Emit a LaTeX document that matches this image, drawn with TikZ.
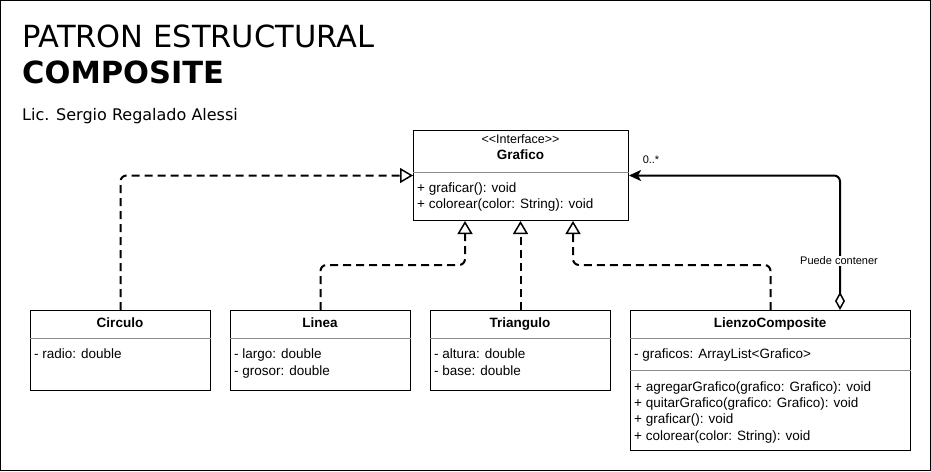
\documentclass[tikz,border=0pt]{standalone}
\usepackage{fontspec}
\setmainfont{Liberation Sans}
\newfontfamily\titlefont{DejaVu Sans}
\usetikzlibrary{arrows.meta}
\begin{document}
\begin{tikzpicture}[x=1pt,y=-1pt,
  classbox/.style={draw=black, line width=1pt, fill=white, anchor=north west, inner sep=0pt},
  txt/.style={anchor=base west, inner sep=0pt, font=\fontsize{13.5}{16}\selectfont},
  ttl/.style={anchor=base, inner sep=0pt, font=\fontsize{13.5}{16}\selectfont\bfseries},
  sepline/.style={draw=black!45, line width=1pt},
  realiz/.style={line width=2pt, dash pattern=on 8pt off 5pt, rounded corners=6pt,
     -{Triangle[open,length=13pt,width=15pt,line width=1.5pt]}},
  aggr/.style={line width=2pt, rounded corners=6pt,
     {Diamond[open,length=18pt,width=10pt,line width=1.5pt]}-{Stealth[length=12pt,width=11pt,inset=3pt]}},
  lbl/.style={inner sep=1pt, font=\fontsize{11}{13}\selectfont}
]
\useasboundingbox (0,0) rectangle (931,471);
\draw[line width=1pt, fill=white] (0.5,0.5) rectangle (930.5,470.5);

% titles
\node[anchor=base west, inner sep=0pt, font=\titlefont\fontsize{30.5}{36}\selectfont] (t1) at (22,47) {PATRON ESTRUCTURAL};
\node[anchor=base west, inner sep=0pt, font=\titlefont\bfseries\fontsize{30.5}{36}\selectfont] (t2) at (22,83) {COMPOSITE};
\node[anchor=base west, inner sep=0pt, font=\titlefont\fontsize{16}{19}\selectfont] (t3) at (22,120) {Lic. Sergio Regalado Alessi};

% Grafico
\node[classbox, minimum width=215pt, minimum height=90pt] (graf) at (413,130) {};
\node[anchor=base, inner sep=0pt, font=\fontsize{12.5}{15}\selectfont] (gst) at (520.5,143) {<\kern0pt<Interface>\kern0pt>};
\node[ttl] (gname) at (520.5,159) {Grafico};
\draw[sepline] (graf.west |- 0,172) -- (graf.east |- 0,172);
\node[txt] (gm1) at (417,192) {+ graficar(): void};
\node[txt] (gm2) at (417,208) {+ colorear(color: String): void};

% Circulo
\node[classbox, minimum width=180pt, minimum height=80pt] (circ) at (30,310) {};
\node[ttl] (cname) at (120,327) {Circulo};
\draw[sepline] (circ.west |- 0,338) -- (circ.east |- 0,338);
\node[txt] (ca1) at (34,358) {- radio: double};

% Linea
\node[classbox, minimum width=180pt, minimum height=80pt] (lin) at (230,310) {};
\node[ttl] (lname) at (320,327) {Linea};
\draw[sepline] (lin.west |- 0,338) -- (lin.east |- 0,338);
\node[txt] (la1) at (234,358) {- largo: double};
\node[txt] (la2) at (234,375) {- grosor: double};

% Triangulo
\node[classbox, minimum width=180pt, minimum height=80pt] (tri) at (430,310) {};
\node[ttl] (trname) at (520,327) {Triangulo};
\draw[sepline] (tri.west |- 0,338) -- (tri.east |- 0,338);
\node[txt] (ta1) at (434,358) {- altura: double};
\node[txt] (ta2) at (434,375) {- base: double};

% LienzoComposite
\node[classbox, minimum width=280pt, minimum height=140pt] (lz) at (630,310) {};
\node[ttl] (lzname) at (770,327) {LienzoComposite};
\draw[sepline] (lz.west |- 0,338) -- (lz.east |- 0,338);
\node[txt] (lza1) at (634,358) {- graficos: ArrayList<Grafico>};
\draw[sepline] (lz.west |- 0,370) -- (lz.east |- 0,370);
\node[txt] (lzm1) at (634,391) {+ agregarGrafico(grafico: Grafico): void};
\node[txt] (lzm2) at (634,407) {+ quitarGrafico(grafico: Grafico): void};
\node[txt] (lzm3) at (634,423) {+ graficar(): void};
\node[txt] (lzm4) at (634,440) {+ colorear(color: String): void};

% connectors
\draw[realiz] (circ.north) |- (graf.west);
\coordinate (lk) at (465,265);
\draw[realiz] (lin.north) |- (lk) -- (lk |- graf.south);
\draw[realiz] (tri.north) -- (tri.north |- graf.south);
\coordinate (lzk) at (573,265);
\draw[realiz] (lz.north) |- (lzk) -- (lzk |- graf.south);

\coordinate (agg) at (840,310);
\draw[aggr] (agg) |- (graf.east);
\node[lbl, fill=white] (pc) at (839,261) {Puede contener};
\node[lbl] (mult) at (651,160) {0..*};
\end{tikzpicture}
\end{document}
